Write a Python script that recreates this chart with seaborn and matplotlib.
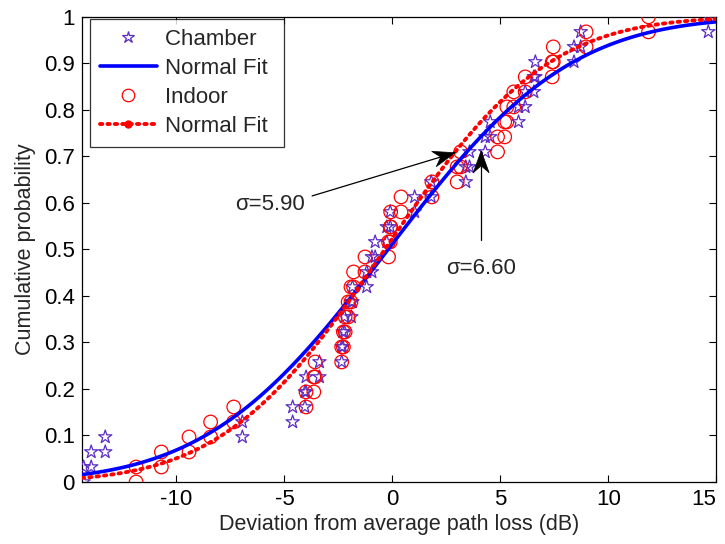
import math
import numpy as np
import pandas as pd
import matplotlib
matplotlib.use("Agg")
import matplotlib.pyplot as plt
import seaborn as sns
from matplotlib.lines import Line2D
from matplotlib.patches import Polygon
from matplotlib.transforms import IdentityTransform
from matplotlib.ticker import FuncFormatter, MultipleLocator

# ---- data (sorted sample deviations, dB) ----
chamber_x = [-14.30, -13.95, -13.30, -6.95, -4.62, -4.05, -4.00, -3.38, -2.35, -2.30,
             -2.22, -1.90, -1.85, -1.19, -0.95, -0.80, -0.26, -0.10, 1.03, 1.80,
             3.40, 3.57, 4.30, 4.53, 5.84, 6.15, 6.55, 6.62, 8.41, 8.72, 14.63]
indoor_x = [-11.87, -10.70, -9.42, -8.42, -7.35, -4.00, -3.64, -3.58, -2.35, -2.27,
            -2.19, -2.05, -1.92, -1.80, -1.27, -0.18, -0.10, -0.08, 0.40, 1.83,
            3.00, 3.16, 4.87, 5.20, 5.30, 5.62, 6.15, 7.40, 7.45, 8.97, 11.86]
chamber_mu, chamber_sigma = -0.2, 6.60
indoor_mu, indoor_sigma = -0.35, 5.90
x_range = [-14.38, 15.0]
x_ticks = [-10, -5, 0, 5, 10, 15]
legend_labels = ["Chamber", "Normal Fit", "Indoor", "Normal Fit"]
xlabel = "Deviation from average path loss (dB)"
ylabel = "Cumulative probability"
sigma_texts = ["\u03c3=5.90", "\u03c3=6.60"]

# ---- colours / styles ----
c_star = "#5B2DC4"
c_blue = "#0000FF"
c_red = "#FF0000"

sns.set_style("ticks")
plt.rcParams["font.family"] = ["Liberation Sans", "DejaVu Sans"]
FS = 16

def staircase(xs):
    n = len(xs)
    xr, yr = [], []
    for k, v in enumerate(xs, start=1):
        xr += [v, v]
        yr += [(k - 1) / n, k / n]
    return pd.DataFrame({"x": xr, "y": yr})

def norm_cdf(xs, mu, s):
    return np.array([0.5 * (1 + math.erf((v - mu) / (s * math.sqrt(2)))) for v in xs])

grid = np.linspace(x_range[0], x_range[1], 120)
fit_ch = pd.DataFrame({"x": grid, "y": norm_cdf(grid, chamber_mu, chamber_sigma)})
fit_in = pd.DataFrame({"x": grid, "y": norm_cdf(grid, indoor_mu, indoor_sigma)})
st_ch = staircase(chamber_x)
st_in = staircase(indoor_x)

fig = plt.figure(figsize=(7.25, 5.44), dpi=100)
ax = fig.add_axes([0.113, 0.114, 0.875, 0.855])

# chamber stars
sns.scatterplot(data=st_ch, x="x", y="y", marker="*", s=100, ax=ax, legend=False, zorder=3)
coll = ax.collections[-1]
coll.set_facecolor("none"); coll.set_edgecolor(c_star); coll.set_linewidth(0.9)

# chamber fit
sns.lineplot(data=fit_ch, x="x", y="y", color=c_blue, lw=2.6, ax=ax, legend=False, zorder=4)

# indoor circles
sns.scatterplot(data=st_in, x="x", y="y", marker="o", s=95, ax=ax, legend=False, zorder=3)
coll = ax.collections[-1]
coll.set_facecolor("none"); coll.set_edgecolor(c_red); coll.set_linewidth(0.9)

# indoor fit
sns.lineplot(data=fit_in, x="x", y="y", color=c_red, lw=2.8, ax=ax, legend=False, zorder=5)
ax.lines[-1].set_linestyle((0, (0.6, 1.3)))
ax.lines[-1].set_dash_capstyle("round")

ax.set_xlim(*x_range)
ax.set_ylim(0, 1)
ax.set_xticks(x_ticks)
ax.yaxis.set_major_locator(MultipleLocator(0.1))
ax.yaxis.set_major_formatter(FuncFormatter(lambda v, p: "%g" % round(v, 2)))
ax.xaxis.set_major_formatter(FuncFormatter(lambda v, p: "%g" % v))
ax.tick_params(direction="in", top=True, right=True, length=5, width=0.8,
               labelsize=FS, colors="k", pad=5)
for sp in ax.spines.values():
    sp.set_visible(True); sp.set_color("k"); sp.set_linewidth(0.9)
ax.set_xlabel(xlabel, fontsize=15.5, labelpad=3)
ax.set_ylabel(ylabel, fontsize=15.5, labelpad=6)
fig.canvas.draw()
ax.xaxis.get_major_ticks()[-1].label1.set_horizontalalignment("right")

# legend
handles = [
    Line2D([], [], ls="none", marker="*", ms=9, mfc="none", mec=c_star, mew=0.9),
    Line2D([], [], color=c_blue, lw=2.6),
    Line2D([], [], ls="none", marker="o", ms=9, mfc="none", mec=c_red, mew=0.9),
    Line2D([], [], color=c_red, lw=2.8, ls=(0, (0.6, 1.3)), dash_capstyle="round",
           marker="o", ms=5, mfc=c_red, mec=c_red),
]
leg = ax.legend(handles, [l + " " for l in legend_labels], loc="upper left",
                bbox_to_anchor=(0.012, 0.996),
                borderaxespad=0, fontsize=FS, frameon=True, fancybox=False,
                handlelength=2.6, handletextpad=0.35, labelspacing=0.36, borderpad=0.45)
leg.get_frame().set_edgecolor("k"); leg.get_frame().set_linewidth(0.9)
leg.set_zorder(10)

# annotations with MATLAB-like concave arrow heads
def matlab_arrow(tail, tip, head_len=22, half_w=8, notch=7):
    fig.canvas.draw()
    t = ax.transData.transform(tail)
    h = ax.transData.transform(tip)
    d = h - t
    u = d / np.hypot(*d)
    n = np.array([-u[1], u[0]])
    base = h - u * head_len
    verts = [h, base + n * half_w, h - u * (head_len - notch), base - n * half_w]
    ax.plot([tail[0], tip[0]], [tail[1], tip[1]], color="k", lw=0.9, zorder=6)
    poly = Polygon(verts, closed=True, facecolor="k", edgecolor="k", lw=0.5,
                   transform=IdentityTransform(), zorder=7)
    ax.add_artist(poly)

ax.text(-5.65, 0.596, sigma_texts[0], fontsize=FS, ha="center", va="center")
matlab_arrow((-3.72, 0.615), (2.9, 0.708))
ax.text(4.11, 0.46, sigma_texts[1], fontsize=FS, ha="center", va="center")
matlab_arrow((4.11, 0.52), (4.11, 0.712))

fig.savefig("out.png", dpi=100)
